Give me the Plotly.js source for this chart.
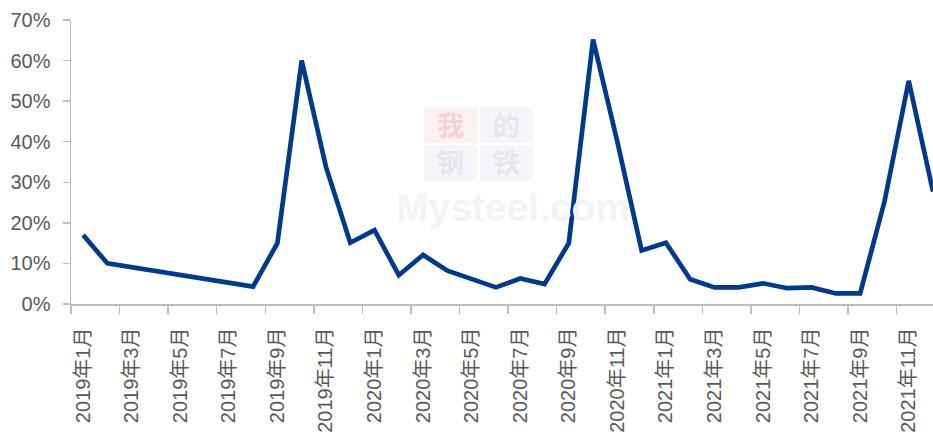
<!DOCTYPE html>
<html>
<head>
<meta charset="utf-8">
<script src="https://cdn.plot.ly/plotly-3.0.1.min.js"></script>
<style>
html,body{margin:0;padding:0;background:#fff;}
#chart{width:933px;height:439px;}
</style>
</head>
<body>
<div id="chart"></div>
<script>
// Month categories 2019年1月 .. 2021年12月
const months = [
  "2019年1月","2019年2月","2019年3月","2019年4月","2019年5月","2019年6月",
  "2019年7月","2019年8月","2019年9月","2019年10月","2019年11月","2019年12月",
  "2020年1月","2020年2月","2020年3月","2020年4月","2020年5月","2020年6月",
  "2020年7月","2020年8月","2020年9月","2020年10月","2020年11月","2020年12月",
  "2021年1月","2021年2月","2021年3月","2021年4月","2021年5月","2021年6月",
  "2021年7月","2021年8月","2021年9月","2021年10月","2021年11月","2021年12月"
];
// Values in % (null = no data shown; line is connected across gaps)
const values = [
  17.0, 10.0, null, null, null, null,
  null, 4.3, 15.0, 60.0, 33.8, 15.1,
  18.2, 7.1, 12.1, 8.2, 6.2, 4.1,
  6.3, 4.9, 15.0, 65.2, 40.0, 13.2,
  15.1, 6.1, 4.1, 4.1, 5.1, 3.9,
  4.1, 2.6, 2.6, 25.2, 55.0, 27.7
];
const yTicks = [0, 10, 20, 30, 40, 50, 60, 70];
const yTickText = ["0%","10%","20%","30%","40%","50%","60%","70%"];

const idx = months.map((m, i) => i);
const labelIdx = idx.filter(i => i % 2 === 0);
const labelText = labelIdx.map(i => months[i]);
const boundaryTicks = [];
for (let i = 0; i <= months.length; i += 2) boundaryTicks.push(i - 0.5);

const textColor = "#595959";
const axisColor = "#BFBFBF";

const trace = {
  x: idx,
  y: values,
  type: "scatter",
  mode: "lines",
  connectgaps: true,
  line: {color: "#003A88", width: 4.7},
  hoverinfo: "skip"
};

// watermark (paper coords relative to plot area: x 71..933, y 20..304)
const PX = (px) => (px - 71) / 862;
const PY = (py) => (304 - py) / 284;

const boxes = [
  {x0: 424, x1: 477, y0: 107, y1: 143, fill: "#FDF2F2"},
  {x0: 480, x1: 533, y0: 107, y1: 143, fill: "#F5F6FA"},
  {x0: 424, x1: 477, y0: 145, y1: 181, fill: "#F5F6FA"},
  {x0: 480, x1: 533, y0: 145, y1: 181, fill: "#F5F6FA"}
];
const shapes = boxes.map(b => ({
  type: "rect", xref: "paper", yref: "paper", layer: "below",
  x0: PX(b.x0), x1: PX(b.x1), y0: PY(b.y1), y1: PY(b.y0),
  fillcolor: b.fill, line: {width: 0}
}));
const wmChars = [
  {t: "我", x: 450.5, y: 125, c: "#F7D3D3"},
  {t: "的", x: 506.5, y: 125, c: "#E4E7EF"},
  {t: "钢", x: 450.5, y: 161, c: "#E4E7EF"},
  {t: "铁", x: 506.5, y: 161, c: "#E4E7EF"}
];
const annotations = wmChars.map(w => ({
  text: "<b>" + w.t + "</b>", xref: "paper", yref: "paper", x: PX(w.x), y: PY(w.y),
  xanchor: "center", yanchor: "middle", showarrow: false, borderpad: 0,
  font: {family: "Noto Sans CJK SC", size: 27, color: w.c}
}));
annotations.push({
  text: "<b>Mysteel.com</b>", xref: "paper", yref: "paper",
  x: PX(513), y: PY(207), xanchor: "center", yanchor: "middle", showarrow: false, borderpad: 0,
  font: {family: "Liberation Sans", size: 39, color: "#F4F4F4"}
});

const layout = {
  width: 933, height: 439,
  margin: {l: 71, r: 0, t: 20, b: 135, pad: 0},
  paper_bgcolor: "#FFFFFF",
  plot_bgcolor: "rgba(0,0,0,0)",
  showlegend: false,
  font: {family: "Liberation Sans, Arial, sans-serif", color: textColor},
  xaxis: {
    type: "linear",
    range: [-0.5, 35.0],
    fixedrange: true,
    showgrid: false, zeroline: false,
    showline: true, linecolor: axisColor, linewidth: 1.5,
    tickmode: "array", tickvals: labelIdx, ticktext: labelText,
    tickangle: -90,
    ticks: "",
    ticklabelstandoff: 14,
    tickfont: {family: "Liberation Sans, Noto Sans CJK SC, sans-serif", size: 20, color: textColor},
    minor: {tickmode: "array", tickvals: boundaryTicks, ticks: "outside", ticklen: 8, tickwidth: 1.5, tickcolor: axisColor, showgrid: false}
  },
  yaxis: {
    range: [0, 70],
    fixedrange: true,
    showgrid: false, zeroline: false,
    showline: true, linecolor: axisColor, linewidth: 1.5,
    tickmode: "array", tickvals: yTicks, ticktext: yTickText,
    ticks: "outside", ticklen: 7, tickwidth: 1.5, tickcolor: axisColor,
    ticklabelstandoff: 8,
    tickfont: {family: "Liberation Sans, Arial, sans-serif", size: 20, color: textColor}
  },
  shapes: shapes,
  annotations: annotations
};

Plotly.newPlot("chart", [trace], layout, {displayModeBar: false, staticPlot: true});
</script>
</body>
</html>
